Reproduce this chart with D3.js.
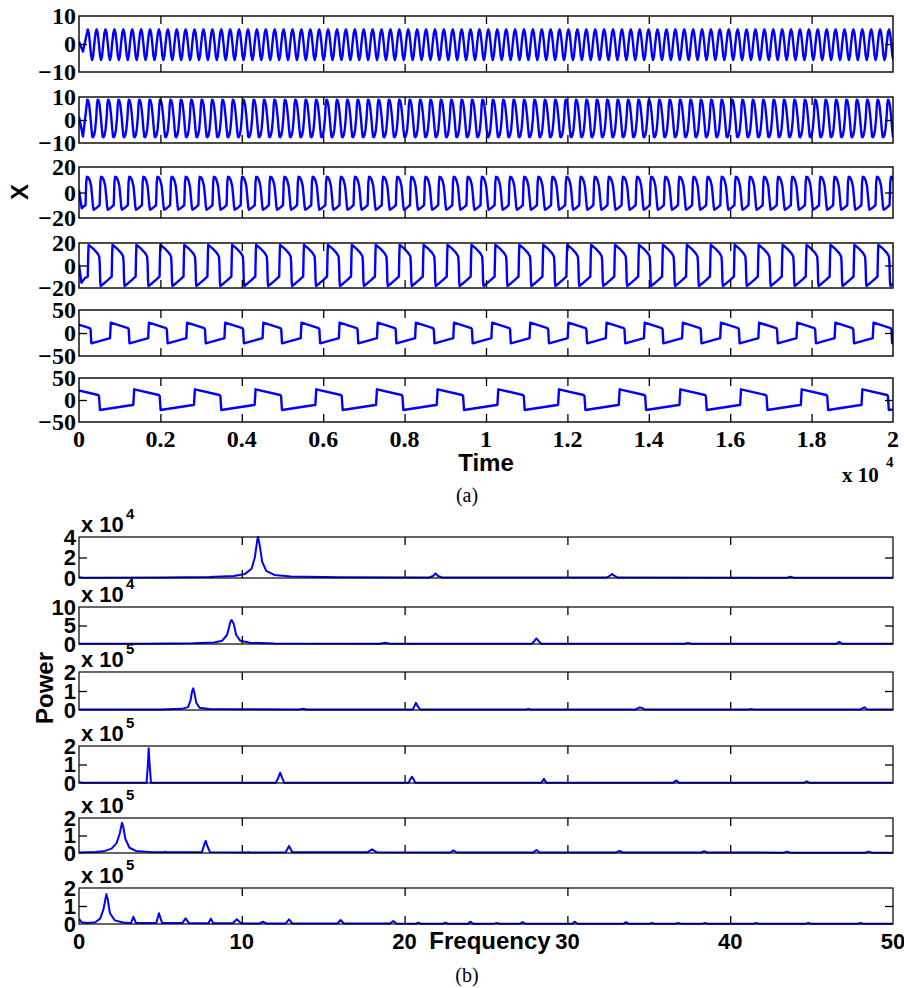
<!DOCTYPE html>
<html><head><meta charset="utf-8">
<script src="https://cdn.jsdelivr.net/npm/d3@7"></script>
<style>body{margin:0;background:#fff}svg{display:block}</style>
</head><body>
<svg id="c" width="904" height="988"></svg>
<script>
// ================= DATA =================
// (a) time series
const timeDomain = [0, 20000];
const timeTicks = [0,2000,4000,6000,8000,10000,12000,14000,16000,18000,20000];
const timeTickLabels = ["0","0.2","0.4","0.6","0.8","1","1.2","1.4","1.6","1.8","2"];
const timeYDomains = [[-10,10],[-10,10],[-20,20],[-20,20],[-50,50],[-50,50]];
const timeYTicks = [[-10,0,10],[-10,0,10],[-20,0,20],[-20,0,20],[-50,0,50],[-50,0,50]];
const timeYTickLabels = [["\u221210","0","10"],["\u221210","0","10"],["\u221220","0","20"],["\u221220","0","20"],["\u221250","0","50"],["\u221250","0","50"]];
// initial transient points [time, X]
const startPts = [
  [[0,0.8],[98,-2.7]],
  [[0,1.4],[98,-7.2]],
  [[0,2],[66,-12.4],[130,-10.5]],
  [[0,1],[59,-15.3],[150,-11]],
  [],
  []
];
// time of first cycle anchor and oscillation period (time units)
const anchorTimes = [214, 204, 160, 215, -175, -157];
const periods = [218.75, 255.5, 346.6, 588, 937, 1491];
// one cycle of each waveform: [phase, X]
const cycleShapes = [
  [[0,5.2],[0.12,4.0],[0.25,0.3],[0.38,-4.2],[0.5,-5.7],[0.62,-4.2],[0.75,0.3],[0.88,4.0]],
  [[0,8.8],[0.08,8.5],[0.18,6.5],[0.3,1.5],[0.4,-4],[0.48,-7.3],[0.56,-7.5],[0.66,-6.5],[0.76,-4],[0.86,1],[0.93,7]],
  [[0,-10],[0.05,8],[0.1,12.3],[0.2,11.8],[0.3,9.5],[0.4,5],[0.47,-3],[0.53,-11],[0.58,-13.5],[0.72,-12.6],[0.86,-11.3],[0.97,-10.2]],
  [[0,-10],[0.02,10],[0.035,18.2],[0.1,17.3],[0.25,14.5],[0.4,11],[0.48,8],[0.5,2],[0.52,-14],[0.54,-18.2],[0.7,-15.5],[0.85,-12.8],[0.97,-10.3]],
  [[0,-11.5],[0.02,22.4],[0.47,10.5],[0.49,8],[0.51,-22.4],[0.98,-11.5]],
  [[0,-11.4],[0.015,24.3],[0.42,11.4],[0.435,9],[0.45,-22.7],[0.985,-11.4]]
];

// (b) power spectra
const freqDomain = [0, 50];
const freqTicks = [0,10,20,30,40,50];
const freqTickLabels = ["0","10","20","30","40","50"];
const powerDomains = [[0,4],[0,10],[0,2],[0,2],[0,2],[0,2]];
const powerTicks = [[0,2,4],[0,5,10],[0,1,2],[0,1,2],[0,1,2],[0,1,2]];
const powerMidTicks = [2,5,1,1,1,1];
const powerExponents = ["4","4","5","5","5","5"];
// [frequency, power / 10^exponent]
const spec1 = [[0,0.08],[0.3,0.03],[5,0.05],[8,0.1],[9.5,0.2],[10.2,0.4],[10.6,0.9],[10.8,2.0],[10.95,3.7],[11.0,4.0],[11.1,3.2],[11.25,1.6],[11.5,0.7],[12,0.3],[13,0.15],[16,0.07],[21.5,0.05],[21.75,0.2],[21.9,0.45],[22.05,0.2],[22.3,0.05],[32.4,0.04],[32.6,0.2],[32.75,0.4],[32.9,0.2],[33.1,0.04],[43.5,0.02],[43.7,0.12],[43.9,0.02],[50,0.02]];
const spec2 = [[0,0.1],[4,0.1],[7,0.2],[8.3,0.4],[8.8,0.9],[9.1,2.5],[9.3,6.0],[9.37,6.5],[9.5,5.5],[9.65,2.5],[9.9,0.9],[10.5,0.35],[12,0.15],[18.5,0.08],[18.8,0.35],[19.1,0.08],[27.8,0.08],[27.95,0.7],[28.1,1.5],[28.25,0.7],[28.4,0.08],[37.2,0.05],[37.4,0.3],[37.6,0.05],[46.5,0.05],[46.7,0.6],[46.9,0.05],[50,0.05]];
const spec3 = [[0,0.03],[5,0.03],[6.3,0.06],[6.7,0.15],[6.85,0.5],[6.95,1.0],[7.02,1.14],[7.1,0.85],[7.2,0.4],[7.4,0.12],[8,0.05],[13.5,0.03],[13.75,0.06],[14,0.03],[20.5,0.03],[20.6,0.2],[20.7,0.38],[20.8,0.2],[20.95,0.03],[27.45,0.03],[27.6,0.06],[27.75,0.03],[34.2,0.03],[34.35,0.1],[34.45,0.14],[34.6,0.1],[34.75,0.03],[41.15,0.03],[41.3,0.05],[41.45,0.03],[48,0.03],[48.15,0.1],[48.25,0.14],[48.4,0.03],[50,0.03]];
const spec4 = [[0,0.04],[0.2,0.01],[4.15,0.02],[4.24,1.1],[4.28,1.88],[4.33,1.1],[4.42,0.02],[12.1,0.02],[12.25,0.3],[12.36,0.56],[12.47,0.3],[12.6,0.02],[20.25,0.02],[20.35,0.2],[20.45,0.34],[20.55,0.2],[20.65,0.02],[28.4,0.02],[28.56,0.22],[28.7,0.02],[36.5,0.02],[36.7,0.14],[36.85,0.02],[44.55,0.02],[44.7,0.09],[44.85,0.02],[50,0.01]];
const spec5 = [[0,0.03],[1,0.06],[1.6,0.12],[2.0,0.25],[2.3,0.55],[2.5,1.1],[2.64,1.73],[2.72,1.5],[2.85,0.8],[3.1,0.3],[3.5,0.12],[4.5,0.05],[5.2,0.04],[5.3,0.07],[5.4,0.04],[7.55,0.05],[7.7,0.5],[7.78,0.7],[7.88,0.4],[8.05,0.05],[10.3,0.03],[10.4,0.05],[10.5,0.03],[12.7,0.04],[12.9,0.4],[13.1,0.04],[17.7,0.04],[18,0.21],[18.3,0.04],[22.8,0.03],[23,0.15],[23.2,0.03],[27.9,0.03],[28.1,0.17],[28.3,0.03],[33,0.03],[33.2,0.12],[33.4,0.03],[38.2,0.03],[38.4,0.1],[38.6,0.03],[43.3,0.02],[43.5,0.08],[43.7,0.02],[48.3,0.02],[48.5,0.08],[48.7,0.02],[50,0.02]];
const spec6 = [[0,0.28],[0.15,0.1],[0.5,0.05],[1.0,0.1],[1.3,0.3],[1.5,0.8],[1.68,1.66],[1.76,1.4],[1.9,0.6],[2.2,0.2],[2.7,0.08],[3.2,0.06],[3.34,0.4],[3.5,0.06],[4.75,0.06],[4.91,0.6],[5.1,0.06],[6.35,0.05],[6.55,0.32],[6.75,0.05],[7.95,0.04],[8.1,0.3],[8.25,0.04],[9.45,0.04],[9.69,0.26],[9.95,0.04],[11.1,0.03],[11.3,0.13],[11.5,0.03],[12.7,0.03],[12.9,0.26],[13.1,0.03],[15.87,0.03],[16.07,0.22],[16.27,0.03],[19.1,0.03],[19.3,0.17],[19.5,0.03],[20.7,0.02],[20.84,0.08],[21,0.02],[22.35,0.02],[22.5,0.08],[22.65,0.02],[23.9,0.02],[24.06,0.13],[24.2,0.02],[25.5,0.02],[25.66,0.06],[25.8,0.02],[27.1,0.02],[27.25,0.11],[27.4,0.02],[30.3,0.02],[30.47,0.13],[30.6,0.02],[33.45,0.02],[33.6,0.1],[33.75,0.02],[35.05,0.02],[35.2,0.05],[35.35,0.02],[36.65,0.02],[36.8,0.06],[36.95,0.02],[38.3,0.02],[38.45,0.06],[38.6,0.02],[41.45,0.02],[41.6,0.06],[41.75,0.02],[44.65,0.02],[44.8,0.05],[44.95,0.02],[47.85,0.02],[48,0.06],[48.15,0.02],[50,0.02]];
const spectra = [spec1, spec2, spec3, spec4, spec5, spec6];

// ================= LAYOUT =================
const L = 79, R = 893;
const topPanels = [[16,72],[97,143],[167,218],[243,288],[310,356],[378,422]];
const specPanels = [[537,578],[607,644],[672,710],[746,783],[818,853],[888,924]];
const SERIF = "'Liberation Serif','Times New Roman',serif";
const SANS = "'Liberation Sans',Arial,Helvetica,sans-serif";
const BLUE = "#0000ff";

const svg = d3.select("#c");
const defs = svg.append("defs");

function styleAxis(sel, font, size){
  sel.attr("font-family", font).attr("font-size", size).attr("font-weight","bold");
  sel.select(".domain").remove();
  sel.selectAll("line").attr("stroke","#000").attr("stroke-width",1.3);
  sel.selectAll("text").attr("fill","#000");
}

function buildSeries(i){
  const pts = startPts[i].slice();
  const t0 = anchorTimes[i], P = periods[i];
  for (let k = 0; t0 + k*P <= timeDomain[1]; k++) {
    cycleShapes[i].forEach(([ph, v]) => pts.push([t0 + (k + ph)*P, v]));
  }
  return pts;
}

// ---------- (a) ----------
const xT = d3.scaleLinear().domain(timeDomain).range([L, R]);
const innerTimeTicks = timeTicks.slice(1, -1);
topPanels.forEach(([y0, y1], i) => {
  const y = d3.scaleLinear().domain(timeYDomains[i]).range([y1, y0]);
  const g = svg.append("g");
  const id = "clipT" + i;
  defs.append("clipPath").attr("id", id).append("rect")
    .attr("x", L).attr("y", y0 - 1).attr("width", R - L).attr("height", y1 - y0 + 2);
  g.append("path").datum(buildSeries(i))
    .attr("clip-path", `url(#${id})`)
    .attr("fill","none").attr("stroke",BLUE).attr("stroke-width",2.4)
    .attr("stroke-linejoin","round")
    .attr("d", d3.line().x(d => xT(d[0])).y(d => y(d[1])));
  g.append("rect").attr("x",L).attr("y",y0).attr("width",R-L).attr("height",y1-y0)
    .attr("fill","none").attr("stroke","#000").attr("stroke-width",1.4);
  g.append("g").attr("transform",`translate(0,${y1})`)
    .call(d3.axisBottom(xT).tickValues(innerTimeTicks).tickSize(-8).tickFormat(""))
    .call(s => styleAxis(s, SERIF, 22));
  g.append("g").attr("transform",`translate(0,${y0})`)
    .call(d3.axisTop(xT).tickValues(innerTimeTicks).tickSize(-8).tickFormat(""))
    .call(s => styleAxis(s, SERIF, 22));
  g.append("g").attr("transform",`translate(${L},0)`)
    .call(d3.axisLeft(y).tickValues([0]).tickSize(-8).tickFormat(""))
    .call(s => styleAxis(s, SERIF, 22));
  g.append("g").attr("transform",`translate(${R},0)`)
    .call(d3.axisRight(y).tickValues([0]).tickSize(-8).tickFormat(""))
    .call(s => styleAxis(s, SERIF, 22));
  g.append("g").attr("transform",`translate(${L},0)`)
    .call(d3.axisLeft(y).tickValues(timeYTicks[i]).tickSize(0).tickPadding(3)
      .tickFormat((d, j) => timeYTickLabels[i][j]))
    .call(s => styleAxis(s, SERIF, 24));
  if (i === topPanels.length - 1) {
    g.append("g").selectAll("text").data(timeTicks).join("text")
      .attr("x", d => xT(d)).attr("y", y1 + 25)
      .attr("text-anchor","middle").attr("font-family",SERIF).attr("font-size",24)
      .attr("font-weight","bold").text((d, j) => timeTickLabels[j]);
  }
});
svg.append("text").attr("x",486).attr("y",471).attr("text-anchor","middle")
  .attr("font-family",SANS).attr("font-size",24).attr("font-weight","bold").text("Time");
svg.append("text").attr("transform","translate(28,192) rotate(-90)").attr("text-anchor","middle")
  .attr("font-family",SANS).attr("font-size",24).attr("font-weight","bold").text("X");
svg.append("text").attr("x",842).attr("y",482)
  .attr("font-family",SERIF).attr("font-size",21).attr("font-weight","bold").text("x 10");
svg.append("text").attr("x",886).attr("y",467)
  .attr("font-family",SERIF).attr("font-size",15).attr("font-weight","bold").text("4");
svg.append("text").attr("x",467).attr("y",502).attr("text-anchor","middle")
  .attr("font-family",SERIF).attr("font-size",20).text("(a)");

// ---------- (b) ----------
const xF = d3.scaleLinear().domain(freqDomain).range([L, R]);
const innerFreqTicks = freqTicks.slice(1, -1);
specPanels.forEach(([y0, y1], i) => {
  const y = d3.scaleLinear().domain(powerDomains[i]).range([y1, y0]);
  const g = svg.append("g");
  const id = "clipS" + i;
  defs.append("clipPath").attr("id", id).append("rect")
    .attr("x", L).attr("y", y0 - 1).attr("width", R - L).attr("height", y1 - y0 + 2);
  g.append("path").datum(spectra[i])
    .attr("clip-path", `url(#${id})`)
    .attr("fill","none").attr("stroke",BLUE).attr("stroke-width",2)
    .attr("stroke-linejoin","round")
    .attr("d", d3.line().x(d => xF(d[0])).y(d => y(d[1])));
  g.append("rect").attr("x",L).attr("y",y0).attr("width",R-L).attr("height",y1-y0)
    .attr("fill","none").attr("stroke","#000").attr("stroke-width",1.2);
  g.append("g").attr("transform",`translate(0,${y1})`)
    .call(d3.axisBottom(xF).tickValues(innerFreqTicks).tickSize(-8).tickFormat(""))
    .call(s => styleAxis(s, SANS, 22));
  g.append("g").attr("transform",`translate(0,${y0})`)
    .call(d3.axisTop(xF).tickValues(innerFreqTicks).tickSize(-8).tickFormat(""))
    .call(s => styleAxis(s, SANS, 22));
  g.append("g").attr("transform",`translate(${L},0)`)
    .call(d3.axisLeft(y).tickValues([powerMidTicks[i]]).tickSize(-8).tickFormat(""))
    .call(s => styleAxis(s, SANS, 22));
  g.append("g").attr("transform",`translate(${R},0)`)
    .call(d3.axisRight(y).tickValues([powerMidTicks[i]]).tickSize(-8).tickFormat(""))
    .call(s => styleAxis(s, SANS, 22));
  g.append("g").attr("transform",`translate(${L},0)`)
    .call(d3.axisLeft(y).tickValues(powerTicks[i]).tickSize(0).tickPadding(3).tickFormat(d3.format("d")))
    .call(s => styleAxis(s, SANS, 22));
  // multiplier label
  g.append("text").attr("x",81).attr("y",y0 - 5)
    .attr("font-family",SANS).attr("font-size",22).attr("font-weight","bold").text("x 10");
  g.append("text").attr("x",126).attr("y",y0 - 18)
    .attr("font-family",SANS).attr("font-size",15).attr("font-weight","bold").text(powerExponents[i]);
  if (i === specPanels.length - 1) {
    g.append("g").selectAll("text").data(freqTicks).join("text")
      .attr("x", d => xF(d)).attr("y", y1 + 25)
      .attr("text-anchor","middle").attr("font-family",SANS).attr("font-size",22)
      .attr("font-weight","bold").text((d, j) => freqTickLabels[j]);
  }
});
svg.append("text").attr("x",490).attr("y",949).attr("text-anchor","middle")
  .attr("font-family",SANS).attr("font-size",24).attr("font-weight","bold").text("Frequency");
svg.append("text").attr("transform","translate(53,688) rotate(-90)").attr("text-anchor","middle")
  .attr("font-family",SANS).attr("font-size",24).attr("font-weight","bold").text("Power");
svg.append("text").attr("x",467).attr("y",982).attr("text-anchor","middle")
  .attr("font-family",SERIF).attr("font-size",20).text("(b)");
</script>
</body></html>
